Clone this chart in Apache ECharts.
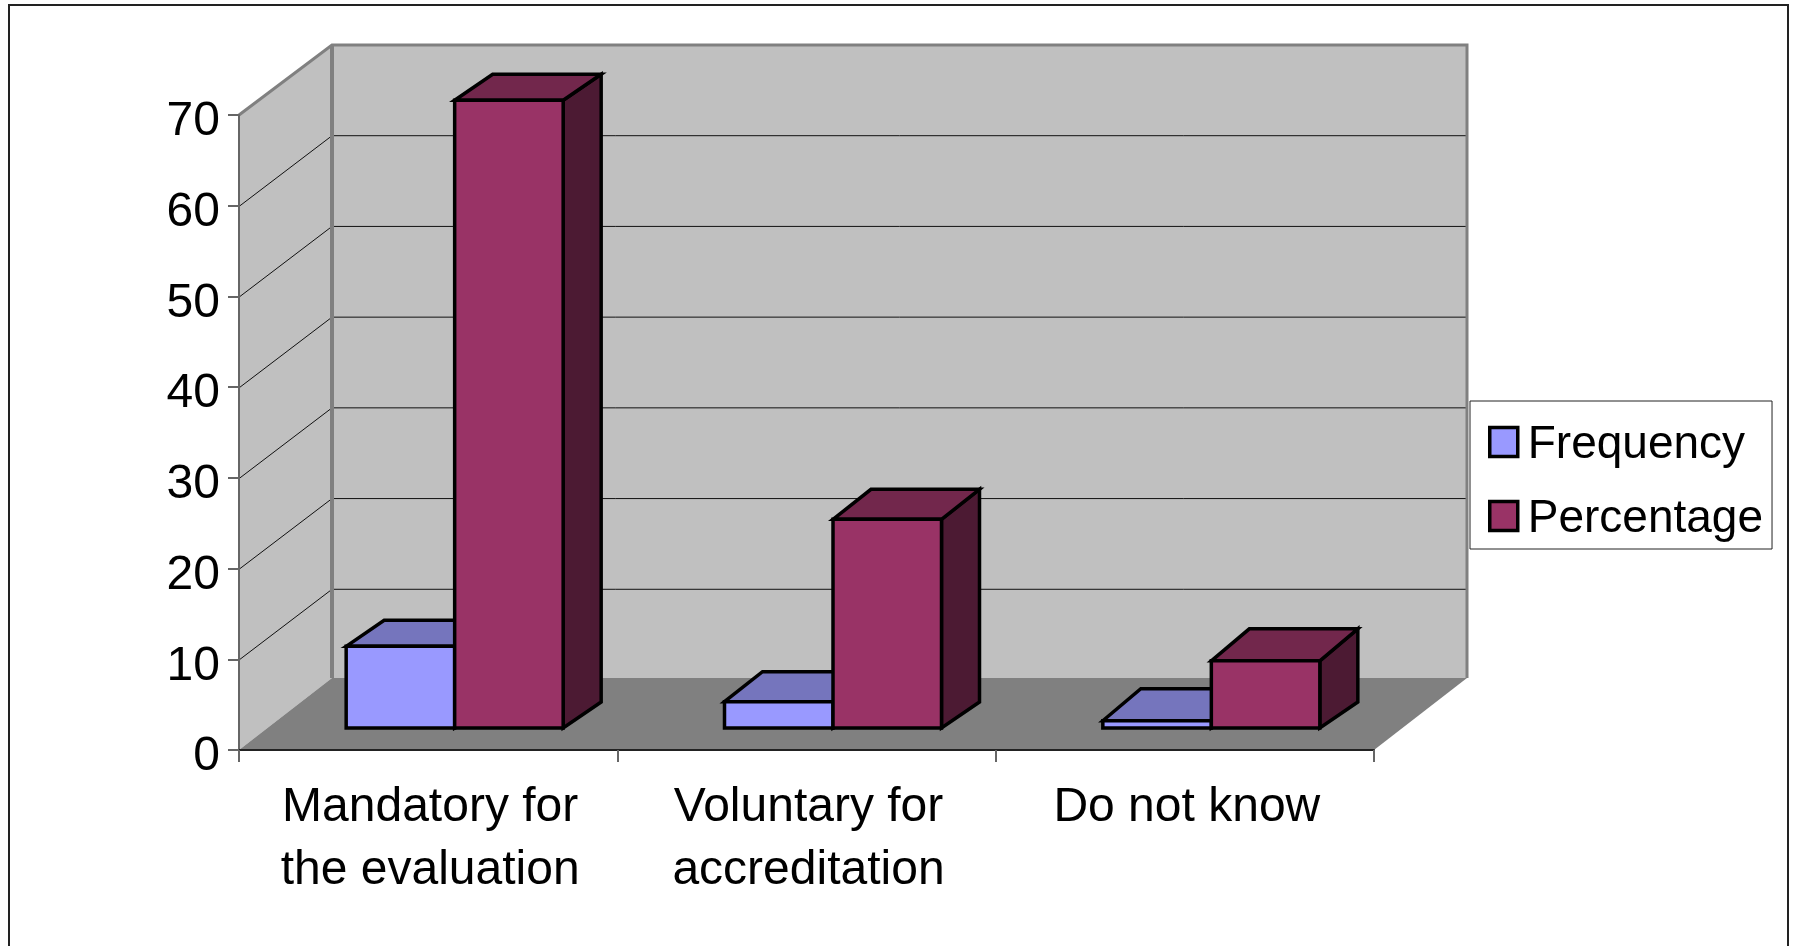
<!DOCTYPE html>
<html>
<head>
<meta charset="utf-8">
<style>
  html, body { margin: 0; padding: 0; background: #fff; }
  #chart { width: 1793px; height: 946px; }
</style>
<script src="https://cdn.jsdelivr.net/npm/echarts@6/dist/echarts.min.js"></script>
</head>
<body>
<div id="chart"></div>
<script>
const categories = ["Mandatory for\nthe evaluation", "Voluntary for\naccreditation", "Do not know"];
const frequency = [9, 2.9, 0.8];
const percentage = [69.2, 23, 7.4];
const yTicks = [0, 10, 20, 30, 40, 50, 60, 70];

const font = "Liberation Sans";
// oblique depth of the chart box, and of the bars inside it
const boxDx = 93, boxDy = 70, floorDy = 72;
const barDx = 38, barDy = 26;
const barTopDy = [26, 30, 32]; // the top faces get deeper to the right in the original
const barInset = 22, barShift = 26.5, barW = 108.5;

function renderWalls(params, api) {
  const cs = params.coordSys;
  const left = cs.x, right = cs.x + cs.width, bottom = cs.y + cs.height;
  const top = api.coord([0, 70])[1];
  const kids = [
    { type: "polygon", shape: { points: [[left, top], [left + boxDx, top - boxDy], [right + boxDx, top - boxDy], [right + boxDx, bottom - floorDy], [left + boxDx, bottom - floorDy], [left, bottom]] },
      style: { fill: "#c0c0c0" } },
    { type: "polygon", shape: { points: [[left, bottom], [left + boxDx, bottom - floorDy], [right + boxDx, bottom - floorDy], [right, bottom]] },
      style: { fill: "#808080" } }
  ];
  yTicks.slice(1, -1).forEach(function (t) {
    const y = api.coord([0, t])[1];
    kids.push({ type: "polyline", shape: { points: [[left + 1, y], [left + boxDx, y - boxDy], [right + boxDx, y - boxDy]] },
      style: { fill: null, stroke: "#111", lineWidth: 1 } });
  });
  kids.push({ type: "polyline", shape: { points: [[left, top], [left + boxDx, top - boxDy], [right + boxDx, top - boxDy], [right + boxDx, bottom - floorDy]] },
    style: { fill: null, stroke: "#808080", lineWidth: 3 } });
  kids.push({ type: "line", shape: { x1: left + boxDx, y1: top - boxDy, x2: left + boxDx, y2: bottom - floorDy },
    style: { stroke: "#808080", lineWidth: 4 } });
  return { type: "group", children: kids };
}

function makeBar(side, front, topCol, sideCol) {
  return function (params, api) {
    const i = api.value(0);
    const base = api.coord([i, 0]);
    const x0 = base[0] + barShift + (side < 0 ? -barW : 0);
    const x1 = x0 + barW;
    const y0 = base[1] - barInset;
    const y1 = api.coord([i, api.value(1)])[1] - barInset;
    const topDy = barTopDy[i];
    const line = { stroke: "#000", lineWidth: 3.5, lineJoin: "miter" };
    return {
      type: "group",
      children: [
        { type: "polygon", shape: { points: [[x1, y1], [x1 + barDx, y1 - topDy], [x1 + barDx, y0 - barDy], [x1, y0]] },
          style: Object.assign({ fill: sideCol }, line) },
        { type: "polygon", shape: { points: [[x0, y1], [x0 + barDx, y1 - topDy], [x1 + barDx, y1 - topDy], [x1, y1]] },
          style: Object.assign({ fill: topCol }, line) },
        { type: "rect", shape: { x: x0, y: y1, width: barW, height: y0 - y1 },
          style: Object.assign({ fill: front }, line) }
      ]
    };
  };
}

const chart = echarts.init(document.getElementById("chart"));
chart.setOption({
  animation: false,
  backgroundColor: "#fff",
  textStyle: { fontFamily: font },
  grid: { left: 239, top: 115, width: 1135, height: 635 },
  legend: {
    data: ["Frequency", "Percentage"],
    orient: "vertical",
    left: 1470,
    top: 401,
    padding: [15, 9, 7, 18],
    backgroundColor: "#fff",
    borderColor: "#222",
    borderWidth: 1,
    icon: "rect",
    itemWidth: 28,
    itemHeight: 29,
    itemGap: 22,
    selectedMode: false,
    itemStyle: { borderColor: "#000", borderWidth: 3.5 },
    formatter: "{t|{name}}",
    textStyle: {
      rich: { t: { fontFamily: font, fontSize: 46, color: "#000", lineHeight: 46, padding: [6, 0, 0, 5] } }
    }
  },
  xAxis: {
    type: "category",
    data: categories,
    z: 1,
    axisLine: { lineStyle: { color: "#222", width: 2 } },
    axisTick: { show: true, length: 12, lineStyle: { color: "#666", width: 2 } },
    axisLabel: { interval: 0, fontFamily: font, fontSize: 48, color: "#000", lineHeight: 63, margin: 26, padding: [0, 0, 0, 4] }
  },
  yAxis: {
    type: "value",
    min: 0,
    max: 70,
    interval: 10,
    z: 1,
    splitLine: { show: false },
    axisLine: { show: true, lineStyle: { color: "#666", width: 2 } },
    axisTick: { show: true, length: 11, lineStyle: { color: "#666", width: 2 } },
    axisLabel: { fontFamily: font, fontSize: 48, color: "#000", margin: 19, verticalAlign: "top", lineHeight: 14 }
  },
  series: [
    { type: "custom", name: "walls", coordinateSystem: "cartesian2d", z: 0, silent: true,
      renderItem: renderWalls, data: [[0, 0]], encode: { x: 0, y: 1 } },
    { type: "custom", name: "Frequency", coordinateSystem: "cartesian2d", z: 2,
      itemStyle: { color: "#9999ff", borderColor: "#000", borderWidth: 3 },
      renderItem: makeBar(-1, "#9999ff", "#7575bd", "#4d4d80"),
      data: frequency.map(function (v, i) { return [i, v]; }), encode: { x: 0, y: 1 } },
    { type: "custom", name: "Percentage", coordinateSystem: "cartesian2d", z: 2,
      itemStyle: { color: "#993366", borderColor: "#000", borderWidth: 3 },
      renderItem: makeBar(1, "#993366", "#72274c", "#4c1a33"),
      data: percentage.map(function (v, i) { return [i, v]; }), encode: { x: 0, y: 1 } }
  ],
  graphic: [
    { type: "polyline", silent: true, z: 10,
      shape: { points: [[9, 946], [9, 5], [1788, 5], [1788, 946]] },
      style: { fill: null, stroke: "#222", lineWidth: 2 } }
  ]
});
</script>
</body>
</html>
